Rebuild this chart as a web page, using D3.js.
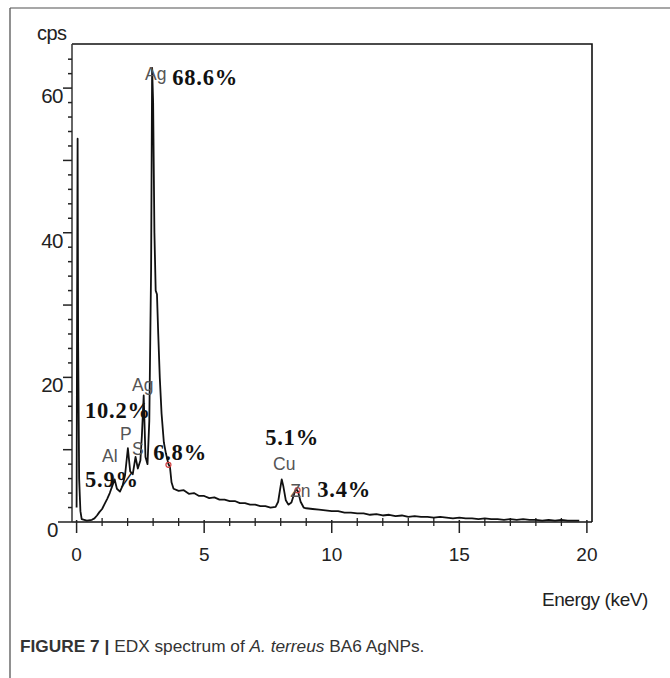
<!DOCTYPE html>
<html><head><meta charset="utf-8">
<script src="https://cdn.jsdelivr.net/npm/d3@7"></script>
<style>
html,body{margin:0;padding:0;background:#fff;}
svg{display:block;}
</style></head>
<body>
<svg id="chart" width="670" height="678"></svg>
<script>
// ---- data (energy in keV, counts in cps) ----
const energy = [0.0,0.02,0.04,0.06,0.1,0.15,0.2,0.4,0.6,0.7,0.8,0.9,1.0,1.1,1.2,1.3,1.4,1.49,1.58,1.7,1.8,1.9,2.01,2.1,2.2,2.31,2.4,2.5,2.56,2.63,2.7,2.78,2.85,2.92,2.96,3.0,3.05,3.1,3.15,3.2,3.26,3.33,3.42,3.5,3.6,3.66,3.72,
 3.8,4.0,4.2,4.4,4.6,4.8,5.0,5.2,5.4,5.6,5.8,6.0,6.2,6.4,6.6,6.8,7.0,7.2,7.4,7.6,7.8,
 7.9,7.98,8.04,8.1,8.2,8.3,8.42,8.52,8.6,8.68,8.78,8.9,9.0,
 9.25,9.5,9.75,10,10.25,10.5,10.75,11,11.25,11.5,11.75,12,12.25,12.5,12.75,13,13.25,13.5,13.75,14,14.25,14.5,14.75,15,15.25,15.5,15.75,16,16.25,16.5,16.75,17,17.25,17.5,17.75,18,18.25,18.5,18.75,19,19.25,19.5,19.7];
const cps = [2,30,53,25,6,1.5,0.4,0.2,0.3,0.5,0.9,1.4,1.8,2.5,3.2,4.0,5.0,5.9,4.6,4.2,5.0,6.5,10.2,7.0,6.6,9.0,7.4,8.5,12,17.5,9,8,14,35,62.8,58,40,32,31.5,26,20,15,11,9.5,8.0,7.6,5.5,
 4.6,4.3,4.4,3.9,4.0,3.6,3.6,3.3,3.4,3.1,3.1,2.9,2.9,2.6,2.6,2.4,2.4,2.2,2.2,2.0,2.1,
 2.8,4.6,5.9,5.0,3.0,2.4,2.7,3.8,4.6,4.2,2.8,2.0,1.9,
 1.8,1.7,1.6,1.5,1.5,1.3,1.3,1.2,1.2,1.0,1.1,0.9,1.0,0.8,0.9,0.7,0.8,0.7,0.7,0.6,0.7,0.6,0.5,0.6,0.5,0.5,0.4,0.5,0.4,0.4,0.3,0.4,0.3,0.4,0.3,0.3,0.2,0.3,0.2,0.3,0.2,0.2,0.2];

const xTickLabels = [0, 5, 10, 15, 20];
const yTickLabels = [0, 20, 40, 60];

// peak annotations (anchored in data space)
const elemText = ["Ag","Ag","P","S","Al","Cu","Zn"];
const elemE    = [2.68,2.17,1.70,2.17,1.0,7.7,8.37];
const elemC    = [61.1,18.1,11.4,9.3,8.3,7.2,3.46];
const pctText  = ["68.6%","10.2%","6.8%","5.9%","5.1%","3.4%"];
const pctE     = [3.75,0.33,3.0,0.33,7.39,9.43];
const pctC     = [60.4,14.4,8.6,4.8,10.65,3.46];
const markerE  = [3.6, 8.66];
const markerC  = [7.9, 4.4];

// ---- drawing ----
const svg = d3.select("#chart");
const L = 72, R = 592, T = 44, B = 522;
const x = d3.scaleLinear().domain([-0.18, 20.2]).range([L, R]);
const y = d3.scaleLinear().domain([0, 66.1]).range([B, T]);
const SANS = "Liberation Sans, Arial, sans-serif";

// outer frame
svg.append("line").attr("x1",10).attr("x2",670).attr("y1",8).attr("y2",8)
  .attr("stroke","#8a8a8a").attr("stroke-width",1.6);
svg.append("line").attr("x1",10).attr("x2",10).attr("y1",8).attr("y2",678)
  .attr("stroke","#555").attr("stroke-width",1.3);

// plot box (top & right)
svg.append("path").attr("d",`M${L},${T}H${R}V${B}`).attr("fill","none")
  .attr("stroke","#111").attr("stroke-width",1.6);

// x axis
const xAxis = svg.append("g").attr("transform",`translate(0,${B})`);
xAxis.append("line").attr("x1",L).attr("x2",R).attr("stroke","#111").attr("stroke-width",1.6);
xAxis.selectAll("line.minor").data(d3.range(0,21,1).filter(v=>v%5!==0)).enter().append("line")
  .attr("x1",d=>x(d)).attr("x2",d=>x(d)).attr("y1",-4).attr("y2",4).attr("stroke","#222").attr("stroke-width",1.3);
xAxis.selectAll("line.major").data(xTickLabels).enter().append("line")
  .attr("x1",d=>x(d)).attr("x2",d=>x(d)).attr("y1",-2).attr("y2",11).attr("stroke","#222").attr("stroke-width",1.5);
xAxis.selectAll("text").data(xTickLabels).enter().append("text")
  .attr("x",d=>x(d)).attr("y",39).attr("text-anchor","middle")
  .attr("font-family",SANS).attr("font-size",19).attr("fill","#222")
  .text(d=>d);

// y axis
const yAxis = svg.append("g").attr("transform",`translate(${L},0)`);
yAxis.append("line").attr("y1",T).attr("y2",B).attr("stroke","#333").attr("stroke-width",1.5);
yAxis.selectAll("line.minor").data(d3.range(0,66,2).filter(v=>v%10!==0)).enter().append("line")
  .attr("y1",d=>y(d)).attr("y2",d=>y(d)).attr("x1",-4).attr("x2",0).attr("stroke","#222").attr("stroke-width",1.5);
yAxis.selectAll("line.major").data(d3.range(0,66,10)).enter().append("line")
  .attr("y1",d=>y(d)).attr("y2",d=>y(d)).attr("x1",d=>d===0?-14:-9).attr("x2",0).attr("stroke","#222").attr("stroke-width",1.5);
yAxis.selectAll("text").data(yTickLabels).enter().append("text")
  .attr("x",d=>d===0?-14:-9).attr("y",d=>y(d)+15).attr("text-anchor","end")
  .attr("font-family",SANS).attr("font-size",20.5).attr("fill","#222")
  .attr("letter-spacing",-0.5)
  .text(d=>d);

svg.append("text").attr("x",37).attr("y",40)
  .attr("font-family",SANS).attr("font-size",20).attr("fill","#222")
  .attr("letter-spacing",-0.5).text("cps");
svg.append("text").attr("x",648).attr("y",606).attr("text-anchor","end")
  .attr("font-family",SANS).attr("font-size",19).attr("fill","#222")
  .attr("letter-spacing",-0.4).text("Energy (keV)");

// spectrum
const pts = energy.map((e,i)=>[e,cps[i]]);
svg.append("path").datum(pts)
  .attr("d", d3.line().x(d=>x(d[0])).y(d=>y(d[1])))
  .attr("fill","none").attr("stroke","#111").attr("stroke-width",1.8).attr("stroke-linejoin","round");

// markers
svg.selectAll("circle.mk").data(markerE).enter().append("circle")
  .attr("cx",(d)=>x(d)).attr("cy",(d,i)=>y(markerC[i])).attr("r",2.5)
  .attr("fill","none").attr("stroke","#d04040").attr("stroke-width",1.2);

// element labels
svg.selectAll("text.el").data(elemText).enter().append("text")
  .attr("x",(d,i)=>x(elemE[i])).attr("y",(d,i)=>y(elemC[i]))
  .attr("font-family",SANS).attr("font-size",17.5).attr("fill","#555")
  .text(d=>d);

// percentage labels
svg.selectAll("text.pct").data(pctText).enter().append("text")
  .attr("x",(d,i)=>x(pctE[i])).attr("y",(d,i)=>y(pctC[i]))
  .attr("font-family","Liberation Serif, Times New Roman, serif").attr("font-weight","bold")
  .attr("font-size",22.5).attr("fill","#111").attr("letter-spacing",0.8)
  .text(d=>d);

// caption
const cap = svg.append("text").attr("x",20).attr("y",652)
  .attr("font-family",SANS).attr("font-size",17.3).attr("fill","#333");
cap.append("tspan").attr("font-weight","bold").text("FIGURE 7 | ");
cap.append("tspan").text("EDX spectrum of ");
cap.append("tspan").attr("font-style","italic").text("A. terreus");
cap.append("tspan").text(" BA6 AgNPs.");
</script>
</body></html>
